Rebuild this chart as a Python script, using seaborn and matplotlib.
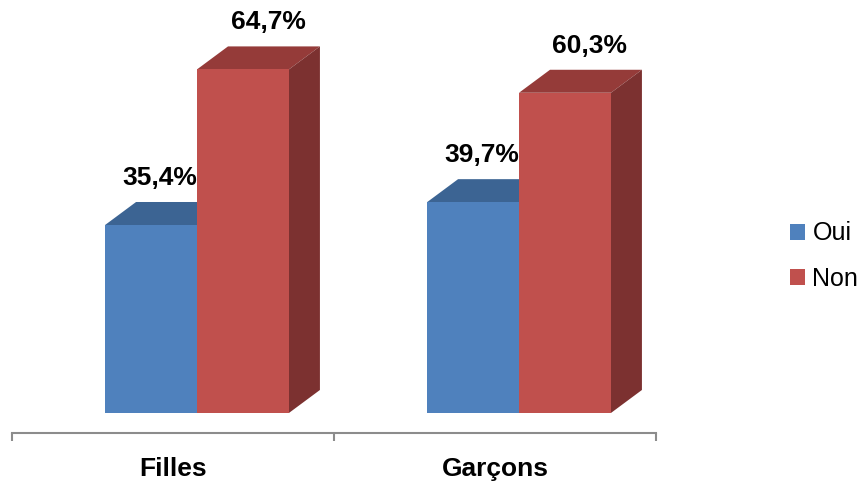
import matplotlib
matplotlib.use("Agg")
import matplotlib.pyplot as plt
from matplotlib.patches import Polygon, Patch
import pandas as pd
import seaborn as sns

# Data
groupes = ["Filles", "Garçons"]
reponses = ["Oui", "Non"]
oui = [35.4, 39.7]
non = [64.7, 60.3]

front_colors = {"Oui": "#4F81BD", "Non": "#C0504D"}
top_colors = {"Oui": "#3C6493", "Non": "#953B39"}
side_colors = {"Oui": "#345783", "Non": "#7C3130"}

df = pd.DataFrame({
    "groupe": groupes * 2,
    "reponse": ["Oui"] * 2 + ["Non"] * 2,
    "pct": oui + non,
})

sns.set_style("white")
plt.rcParams["font.family"] = ["Liberation Sans", "DejaVu Sans"]
plt.rcParams["text.color"] = "black"
plt.rcParams["xtick.labelcolor"] = "black"

W, H, DPI = 865, 482, 100
fig = plt.figure(figsize=(W / DPI, H / DPI), dpi=DPI)
ax = fig.add_axes([12 / W, 49 / H, 644 / W, 433 / H])

sns.barplot(data=df, x="groupe", y="pct", hue="reponse", order=groupes,
            hue_order=reponses, palette=front_colors, width=0.571,
            saturation=1, dodge=True, legend=False, ax=ax, errorbar=None)

ax.set_xlim(-0.5, 1.5)
ax.set_ylim(-3.77, 77.77)

# pixel -> data conversion for the 3D depth
px_x = 2.0 / 644
px_y = (77.77 + 3.77) / 433
dx, dy = 31 * px_x, 23 * px_y
shift = 24 * px_x

label_dx = {"Oui": 9, "Non": 25}
zfront = {"Oui": 2, "Non": 4}
for cont, rep in zip(ax.containers, reponses):
    for bar in cont:
        bar.set_x(bar.get_x() + shift)
        bar.set_linewidth(0)
        bar.set_zorder(zfront[rep])
        x0 = bar.get_x()
        x1 = x0 + bar.get_width()
        h = bar.get_height()
        top = Polygon([(x0, h), (x1, h), (x1 + dx, h + dy), (x0 + dx, h + dy)],
                      closed=True, facecolor=top_colors[rep], linewidth=0,
                      zorder=zfront[rep] - 1)
        side = Polygon([(x1, 0), (x1 + dx, dy), (x1 + dx, h + dy), (x1, h)],
                       closed=True, facecolor=side_colors[rep], linewidth=0,
                       zorder=zfront[rep] - 1)
        ax.add_patch(top)
        ax.add_patch(side)
        ax.annotate(f"{h:.1f}%".replace(".", ","),
                    xy=((x0 + x1) / 2, h), xytext=(label_dx[rep], 40),
                    textcoords="offset pixels", ha="center", va="baseline",
                    fontsize=19, fontweight="bold", color="black", zorder=10)

# Category axis
for s in ["top", "right", "left"]:
    ax.spines[s].set_visible(False)
ax.spines["bottom"].set_color("#8C8C8C")
ax.spines["bottom"].set_linewidth(1.5)
ax.set_yticks([])
ax.set_xticks([-0.5, 0.5, 1.5])
ax.set_xticklabels([])
ax.tick_params(axis="x", which="major", bottom=True, length=6, width=1.5,
               color="#8C8C8C", direction="out")
ax.set_xticks([0, 1], minor=True)
ax.set_xticklabels(groupes, minor=True, fontsize=19, fontweight="bold", color="black")
ax.tick_params(axis="x", which="minor", bottom=True, length=0, pad=17)
ax.set_xlabel("")
ax.set_ylabel("")

handles = [Patch(facecolor=front_colors[r], edgecolor="none", label=r) for r in reponses]
fig.legend(handles=handles, loc="center left", bbox_to_anchor=(790 / W, 1 - 256 / H),
           frameon=False, fontsize=18, handlelength=0.6, handleheight=0.6,
           handletextpad=0.3, labelspacing=0.85, borderaxespad=0, borderpad=0,
           labelcolor="black")

fig.savefig("out.png", dpi=DPI)
